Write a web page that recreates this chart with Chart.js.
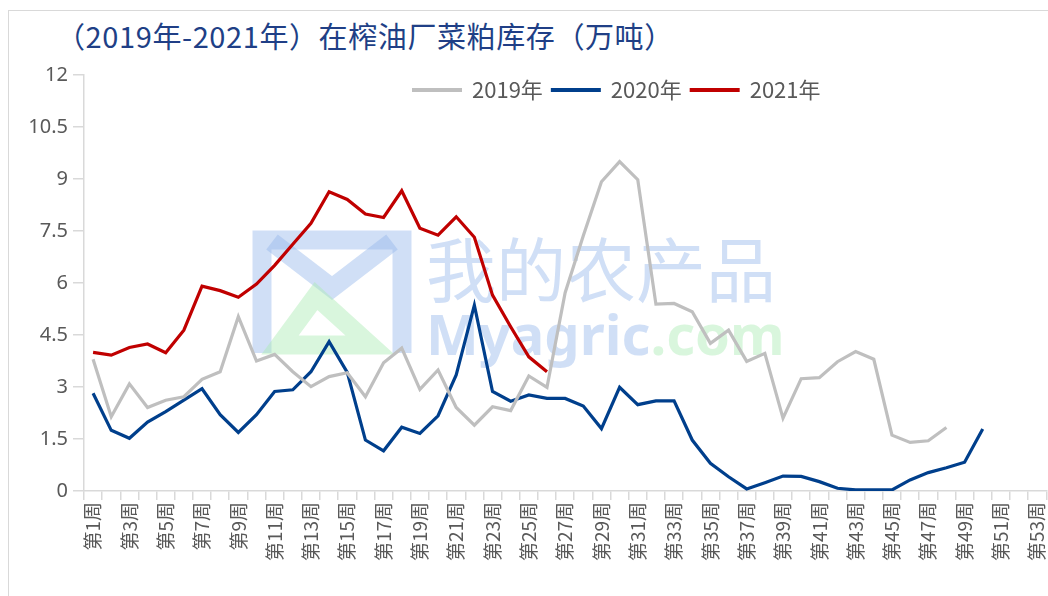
<!DOCTYPE html>
<html>
<head>
<meta charset="utf-8">
<script src="https://cdn.jsdelivr.net/npm/chart.js@4.4.0/dist/chart.umd.min.js"></script>
<style>
  html, body { margin: 0; padding: 0; background: #fff; overflow: hidden; }
  #frame { position: absolute; left: 8px; top: 10px; width: 1100px; height: 700px; border: 1px solid #d9d9d9; }
  #title { position: absolute; left: 56px; top: 14px; font-family: "Noto Sans CJK SC", sans-serif; font-size: 29px; color: #203f86; white-space: nowrap; letter-spacing: 0.6px; }
  #wrap { position: absolute; left: 0; top: 0; width: 1062px; height: 596px; }
</style>
</head>
<body>
<div id="frame"></div>
<div id="title">（2019年-2021年）在榨油厂菜粕库存（万吨）</div>
<div id="wrap"><canvas id="myChart"></canvas></div>
<script>
// weeks 1..53
const weeks = [];
for (let i = 1; i <= 53; i++) weeks.push('第' + i + '周');

const yTicks = [0, 1.5, 3, 4.5, 6, 7.5, 9, 10.5, 12];

const stock2019 = [3.8, 2.14, 3.09, 2.41, 2.62, 2.72, 3.22, 3.44, 5.03, 3.75,
  3.94, 3.44, 3.01, 3.3, 3.41, 2.72, 3.7, 4.12, 2.93, 3.49,
  2.41, 1.9, 2.43, 2.32, 3.32, 2.99, 5.72, 7.36, 8.92, 9.5,
  8.98, 5.39, 5.41, 5.17, 4.26, 4.64, 3.74, 3.97, 2.1, 3.24,
  3.27, 3.73, 4.02, 3.8, 1.61, 1.4, 1.45, 1.83];

const stock2020 = [2.82, 1.75, 1.52, 1.99, 2.29, 2.62, 2.95, 2.2, 1.69, 2.2,
  2.87, 2.92, 3.44, 4.31, 3.42, 1.47, 1.16, 1.84, 1.66, 2.17,
  3.35, 5.36, 2.87, 2.59, 2.77, 2.67, 2.67, 2.45, 1.8, 2.99,
  2.49, 2.6, 2.6, 1.47, 0.8, 0.41, 0.06, 0.24, 0.43, 0.42,
  0.27, 0.08, 0.03, 0.03, 0.03, 0.32, 0.53, 0.67, 0.83, 1.79];

const stock2021 = [4.0, 3.92, 4.14, 4.24, 3.99, 4.64, 5.91, 5.78, 5.59, 5.97,
  6.51, 7.12, 7.72, 8.63, 8.41, 7.99, 7.89, 8.66, 7.58, 7.38,
  7.91, 7.32, 5.65, 4.74, 3.87, 3.44];

const AXIS = '#d9d9d9';
const TXT = '#595959';

// faint site watermark behind the lines
const watermark = {
  id: 'watermark',
  beforeDatasetsDraw(chart) {
    const c = chart.ctx;
    c.save();
    c.lineJoin = 'miter';
    c.strokeStyle = 'rgba(150,185,235,0.45)';
    c.lineWidth = 19;
    c.beginPath();
    c.moveTo(262, 353); c.lineTo(262, 240); c.lineTo(402, 240); c.lineTo(402, 353);
    c.stroke();
    c.beginPath();
    c.moveTo(272, 242); c.lineTo(332, 288); c.lineTo(392, 242);
    c.stroke();
    c.strokeStyle = 'rgba(170,235,180,0.45)';
    c.beginPath();
    c.moveTo(280, 345); c.lineTo(316, 296); c.lineTo(370, 345); c.closePath();
    c.stroke();
    c.font = '70px "Noto Sans CJK SC"';
    c.fillStyle = 'rgba(150,185,235,0.45)';
    c.textBaseline = 'alphabetic';
    c.fillText('我的农产品', 426, 297);
    c.font = 'bold 56px "Noto Sans"';
    c.fillText('Myagric', 426, 355);
    const w = c.measureText('Myagric').width;
    c.fillStyle = 'rgba(170,235,180,0.45)';
    c.fillText('.com', 426 + w, 355);
    c.restore();
  }
};

// legend drawn inside the plot, top area
const lineLegend = {
  id: 'lineLegend',
  afterDraw(chart) {
    const c = chart.ctx;
    c.save();
    c.font = '22px "Noto Sans CJK SC"';
    c.textBaseline = 'middle';
    let x = 412;
    const y = 90;
    chart.data.datasets.forEach(ds => {
      c.strokeStyle = ds.borderColor;
      c.lineWidth = 4;
      c.beginPath();
      c.moveTo(x, y); c.lineTo(x + 50, y);
      c.stroke();
      x += 60;
      c.fillStyle = TXT;
      c.fillText(ds.label, x, y);
      x += c.measureText(ds.label).width + 8;
    });
    c.restore();
  }
};

const ctx = document.getElementById('myChart').getContext('2d');
const myChart = new Chart(ctx, {
  type: 'line',
  data: {
    labels: weeks,
    datasets: [
      { label: '2019年', data: stock2019, borderColor: '#bfbfbf', borderWidth: 3.2 },
      { label: '2020年', data: stock2020, borderColor: '#003f8c', borderWidth: 3.2 },
      { label: '2021年', data: stock2021, borderColor: '#c00000', borderWidth: 3.2 }
    ]
  },
  options: {
    responsive: true,
    maintainAspectRatio: false,
    animation: false,
    layout: { padding: { top: 75, left: 0, right: 0, bottom: 0 } },
    elements: { point: { radius: 0 }, line: { tension: 0, fill: false } },
    plugins: { legend: { display: false }, title: { display: false }, tooltip: { enabled: false } },
    scales: {
      x: {
        type: 'category',
        offset: true,
        grid: { offset: true, drawOnChartArea: false, tickLength: 9, color: AXIS, lineWidth: 1.5 },
        border: { color: AXIS, width: 1.5 },
        ticks: {
          autoSkip: false, maxRotation: 90, minRotation: 90, padding: 2,
          color: TXT, font: { family: '"Noto Sans CJK SC"', size: 19 },
          callback: (v, i) => (i % 2 === 0 ? weeks[i] : '')
        },
        afterFit: s => { s.height = 105; }
      },
      y: {
        min: 0, max: 12,
        afterBuildTicks: s => { s.ticks = yTicks.map(v => ({ value: v })); },
        grid: { drawOnChartArea: false, tickLength: 11, color: AXIS, lineWidth: 1.5 },
        border: { color: AXIS, width: 1.5 },
        ticks: {
          padding: 5, color: TXT, font: { family: '"Noto Sans"', size: 20 },
          callback: v => String(v)
        },
        afterFit: s => { s.width = 84; }
      }
    }
  },
  plugins: [watermark, lineLegend]
});
</script>
</body>
</html>
